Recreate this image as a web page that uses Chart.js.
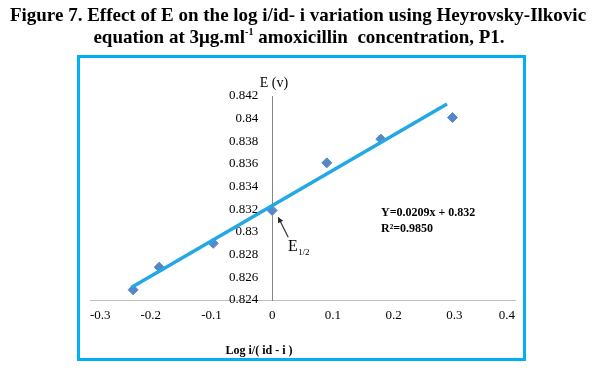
<!DOCTYPE html>
<html>
<head>
<meta charset="utf-8">
<script src="https://cdn.jsdelivr.net/npm/chart.js@4"></script>
<style>
  body { margin: 0; background: #fff; }
  canvas { display: block; }
</style>
</head>
<body>
<canvas id="chart" width="605" height="378"></canvas>
<script>
// measured points, log i/(id - i) vs E
const logRatio = [-0.229, -0.186, -0.097, 0.0, 0.09, 0.179, 0.297];
const potential = [0.8249, 0.8269, 0.8290, 0.8319, 0.8361, 0.8382, 0.8401];

// trendline as drawn in the figure
const trendX = [-0.232, 0.288];
const trendY = [0.8251, 0.8413];

const xTicks = [-0.3, -0.2, -0.1, 0, 0.1, 0.2, 0.3, 0.4];
const yTicks = [0.824, 0.826, 0.828, 0.83, 0.832, 0.834, 0.836, 0.838, 0.84, 0.842];

const titleLine1 = 'Figure 7. Effect of E on the log i/id- i variation using Heyrovsky-Ilkovic';
// second line: before superscript, superscript, after
const titleLine2 = ['equation at 3\u03BCg.ml', '-1', ' amoxicillin  concentration, P1.'];
const equationText = ['Y=0.0209x + 0.832', 'R\u00B2=0.9850'];

const serif = '"Liberation Serif", "DejaVu Serif", serif';

// move the y axis so it crosses x = 0 (labels stay on its left side)
const crossAtZero = {
  id: 'crossAtZero',
  afterLayout(chart) {
    const ys = chart.scales.y;
    const x0 = chart.scales.x.getPixelForValue(0);
    ys.right = x0;
    ys.left = x0 - 50;
  }
};

// frame, titles and the E1/2 callout
const extras = {
  id: 'extras',
  afterDraw(chart) {
    const ctx = chart.ctx;
    const xs = chart.scales.x, ys = chart.scales.y;
    ctx.save();

    ctx.strokeStyle = '#00b0f0';
    ctx.lineWidth = 3;
    ctx.strokeRect(78.5, 56.5, 446, 303);

    ctx.fillStyle = '#000';
    ctx.textAlign = 'center';
    ctx.textBaseline = 'alphabetic';
    ctx.font = 'bold 19px ' + serif;
    ctx.fillText(titleLine1, 298, 21);

    // line 2 with a small raised "-1"
    const big = 'bold 19px ' + serif, small = 'bold 10px ' + serif;
    ctx.font = big;
    const w0 = ctx.measureText(titleLine2[0]).width;
    const w2 = ctx.measureText(titleLine2[2]).width;
    ctx.font = small;
    const w1 = ctx.measureText(titleLine2[1]).width;
    let tx = 299 - (w0 + w1 + w2) / 2;
    ctx.textAlign = 'left';
    ctx.font = big;
    ctx.fillText(titleLine2[0], tx, 43);
    tx += w0;
    ctx.font = small;
    ctx.fillText(titleLine2[1], tx, 35);
    tx += w1;
    ctx.font = big;
    ctx.fillText(titleLine2[2], tx, 43);

    // axis titles
    ctx.textAlign = 'center';
    ctx.font = '14px ' + serif;
    ctx.fillText('E (v)', 274, 87);
    ctx.font = 'bold 12px ' + serif;
    ctx.fillText('Log i/( id - i )', 259, 354);

    // regression text
    ctx.textAlign = 'left';
    ctx.font = 'bold 12px ' + serif;
    ctx.fillText(equationText[0], 381, 216);
    ctx.fillText(equationText[1], 381, 232);

    // E1/2 arrow
    const ax = xs.getPixelForValue(0.01), ay = ys.getPixelForValue(0.8313);
    const bx = ax + 10, by = ay + 20;
    ctx.strokeStyle = '#333';
    ctx.lineWidth = 1.2;
    ctx.beginPath();
    ctx.moveTo(bx, by);
    ctx.lineTo(ax, ay);
    ctx.stroke();
    const ang = Math.atan2(ay - by, ax - bx);
    ctx.fillStyle = '#222';
    ctx.beginPath();
    ctx.moveTo(ax, ay);
    ctx.lineTo(ax - 6 * Math.cos(ang - 0.5), ay - 6 * Math.sin(ang - 0.5));
    ctx.lineTo(ax - 6 * Math.cos(ang + 0.5), ay - 6 * Math.sin(ang + 0.5));
    ctx.closePath();
    ctx.fill();

    ctx.fillStyle = '#000';
    ctx.font = '16px ' + serif;
    ctx.fillText('E', 288, 251);
    ctx.font = '9px ' + serif;
    ctx.fillText('1/2', 298, 255);

    ctx.restore();
  }
};

new Chart(document.getElementById('chart'), {
  data: {
    datasets: [
      {
        type: 'line',
        data: trendX.map((x, i) => ({ x, y: trendY[i] })),
        borderColor: '#22a8e4',
        borderWidth: 3.5,
        pointRadius: 0,
        fill: false,
        order: 0
      },
      {
        type: 'scatter',
        data: logRatio.map((x, i) => ({ x, y: potential[i] })),
        pointStyle: 'rectRot',
        pointRadius: 5,
        backgroundColor: '#5787c6',
        borderColor: '#5787c6',
        order: 1
      }
    ]
  },
  options: {
    responsive: false,
    devicePixelRatio: 1,
    animation: false,
    layout: { padding: { left: 90, right: 90, top: 96, bottom: 78 } },
    plugins: {
      legend: { display: false },
      tooltip: { enabled: false }
    },
    scales: {
      x: {
        type: 'linear',
        position: { y: 0.824 },
        min: -0.3,
        max: 0.4,
        afterBuildTicks: s => { s.ticks = xTicks.map(v => ({ value: v })); },
        grid: { display: false, drawTicks: false },
        border: { display: true, color: '#bfbfbf', width: 1 },
        ticks: {
          padding: 8,
          align: 'inner',
          color: '#000',
          font: { family: serif, size: 13 },
          callback: v => String(+v.toFixed(1))
        }
      },
      y: {
        type: 'linear',
        position: 'left',
        min: 0.824,
        max: 0.842,
        afterBuildTicks: s => { s.ticks = yTicks.map(v => ({ value: v })); },
        afterFit: s => { s.width = 0; },
        grid: { display: false, drawTicks: false },
        border: { display: true, color: '#868686', width: 1 },
        ticks: {
          padding: 14,
          color: '#000',
          font: { family: serif, size: 13 },
          callback: v => String(+v.toFixed(3))
        }
      }
    }
  },
  plugins: [crossAtZero, extras]
});
</script>
</body>
</html>
